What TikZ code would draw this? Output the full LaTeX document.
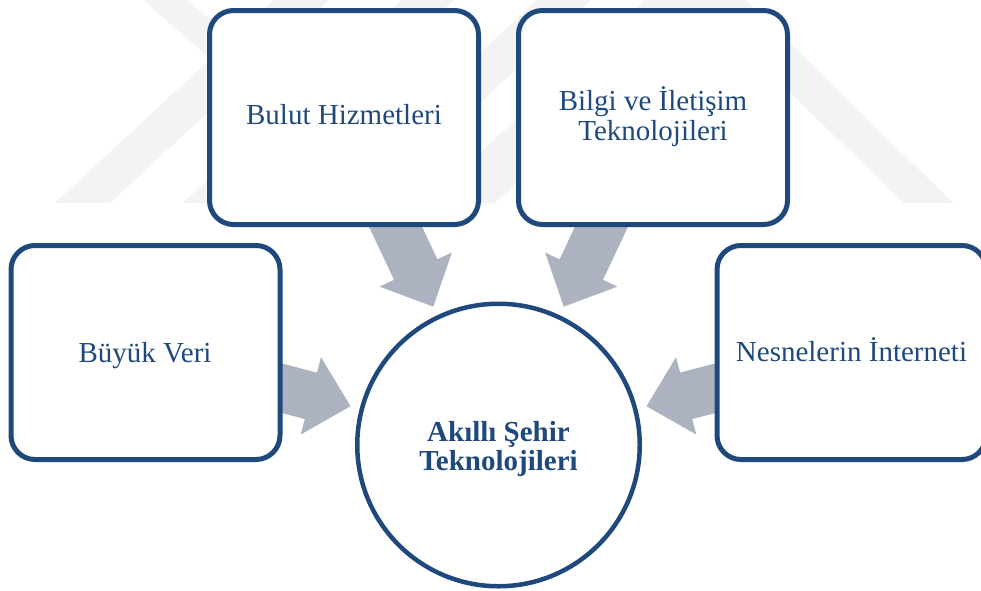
\documentclass[tikz,border=0pt]{standalone}
\usepackage{fontspec}
\setmainfont{Liberation Serif}
\usetikzlibrary{calc}
\definecolor{navy}{RGB}{31,73,125}
\definecolor{arrowgrey}{RGB}{173,178,192}
\definecolor{wmark}{RGB}{243,243,243}
\pgfdeclarelayer{wm}
\pgfdeclarelayer{bg}
\pgfsetlayers{wm,bg,main}
\tikzset{
  box/.style={draw=navy, line width=5pt, fill=white, rounded corners=24pt,
    minimum width=269pt, minimum height=214pt, inner sep=0pt},
  hub/.style={draw=navy, line width=4.5pt, fill=white, circle,
    minimum size=282.5pt, inner sep=0pt},
  lbl/.style={text=navy, font=\fontsize{29}{30}\selectfont, align=center,
    inner sep=0pt, anchor=base},
  hubl/.style={lbl, font=\fontsize{29}{28.5}\selectfont\bfseries},
  flow/.style={fill=arrowgrey},
  wmband/.style={fill=wmark},
}
\newcommand{\blockarrow}[2]{%
  \coordinate (T) at ($(#2.center)!153pt!(#1.center)$);
  \coordinate (M) at ($(T)!41pt!(#1.center)$);
  \fill[flow] ($(#1.center)!24pt!90:(T)$) -- ($(M)!24pt!90:(T)$)
    -- ($(M)!40pt!90:(T)$) -- (T) -- ($(M)!40pt!-90:(T)$)
    -- ($(M)!24pt!-90:(T)$) -- ($(#1.center)!24pt!-90:(T)$) -- cycle;
}
\begin{document}
\begin{tikzpicture}[x=1pt,y=-1pt]
\useasboundingbox (0,0) rectangle (981,590);
% boxes and hub
\node[box] (bulut) at (344,117.5) {};
\node[box] (bit) at (653,117.5) {};
\node[box] (bv) at (145.5,352.5) {};
\node[box] (ni) at (851.5,352.5) {};
\node[hub] (hub) at (498.5,445) {};
% labels (base = baseline of the last line)
\node[lbl] (bulut-t) at (344,124.3) {Bulut Hizmetleri};
\node[lbl] (bit-t) at (653,140) {Bilgi ve İletişim\\Teknolojileri};
\node[lbl] (bv-t) at (145,362) {Büyük Veri};
\node[lbl] (ni-t) at (851.5,361.7) {Nesnelerin İnterneti};
\node[hubl] (hub-t) at (498.5,470) {Akıllı Şehir\\Teknolojileri};
% arrows
\begin{pgfonlayer}{bg}
  \blockarrow{bulut}{hub}
  \blockarrow{bit}{hub}
  \blockarrow{bv}{hub}
  \blockarrow{ni}{hub}
\end{pgfonlayer}
% faint watermark
\begin{pgfonlayer}{wm}
  \begin{scope}
    \clip (0,0) rectangle (981,203);
    \fill[wmband] (55,203) -- (110,203) -- (329,0) -- (274,0) -- cycle;
    \fill[wmband] (143,0) -- (187,0) -- (420,203) -- (376,203) -- cycle;
    \fill[wmband] (183,203) -- (235,203) -- (454,0) -- (402,0) -- cycle;
    \fill[wmband] (318,203) -- (372,203) -- (591,0) -- (537,0) -- cycle;
    \fill[wmband] (426,203) -- (495,203) -- (714,0) -- (645,0) -- cycle;
    \fill[wmband] (903,203) -- (953,203) -- (746,0) -- (696,0) -- cycle;
  \end{scope}
\end{pgfonlayer}
\end{tikzpicture}
\end{document}
